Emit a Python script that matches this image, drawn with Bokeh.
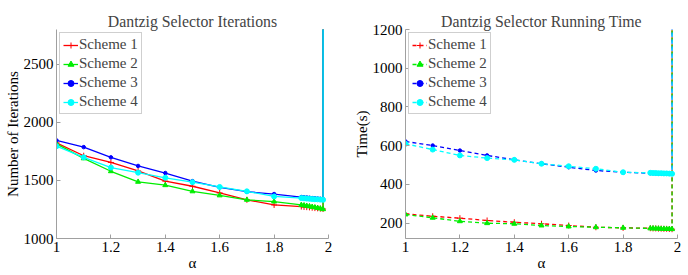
from bokeh.plotting import figure
from bokeh.layouts import row
from bokeh.models import FixedTicker, Range1d
from bokeh.embed import file_html
from bokeh.resources import INLINE

# ---------------- data ----------------
alpha = [1.0, 1.1, 1.2, 1.3, 1.4, 1.5, 1.6, 1.7, 1.8,
         1.90, 1.91, 1.92, 1.93, 1.94, 1.95, 1.96, 1.97, 1.98, 1.98]

iter_s1 = [1824, 1713, 1655, 1582, 1494, 1450, 1392, 1333, 1289,
           1275, 1272, 1270, 1268, 1265, 1262, 1260, 1257, 1254, 20000]
iter_s2 = [1815, 1690, 1579, 1488, 1459, 1406, 1371, 1333, 1318,
           1289, 1285, 1281, 1277, 1272, 1268, 1263, 1258, 1252, 20000]
iter_s3 = [1845, 1787, 1699, 1625, 1564, 1494, 1441, 1403, 1383,
           1357, 1355, 1353, 1351, 1348, 1346, 1344, 1342, 1339, 20000]
iter_s4 = [1795, 1699, 1611, 1567, 1523, 1485, 1444, 1406, 1362,
           1348, 1346, 1344, 1342, 1340, 1338, 1337, 1335, 1333, 20000]

time_s1 = [248, 236, 226, 214, 205, 197, 188, 179, 176,
           174, 173, 173, 172, 172, 171, 171, 170, 169, 8000]
time_s2 = [245, 228, 210, 200, 197, 188, 183, 179, 176,
           173, 173, 172, 172, 171, 171, 170, 170, 169, 8000]
time_s3 = [622, 601, 575, 550, 527, 507, 489, 472, 463,
           458, 458, 457, 457, 456, 456, 456, 455, 455, 8000]
time_s4 = [610, 580, 550, 536, 527, 507, 494, 481, 463,
           460, 459, 459, 458, 458, 457, 457, 456, 455, 8000]

scheme_names = ["Scheme 1", "Scheme 2", "Scheme 3", "Scheme 4"]
scheme_colors = ["#ff0000", "#00ee00", "#0000ff", "#00ffff"]

x_ticks = [1.0, 1.2, 1.4, 1.6, 1.8, 2.0]
x_tick_labels = ["1", "1.2", "1.4", "1.6", "1.8", "2"]
iter_ticks = [1000, 1500, 2000, 2500]
time_ticks = [200, 400, 600, 800, 1000, 1200]

FONT = "Liberation Serif"


def style(p, xlabel, ylabel, yticks):
    p.title.text_font = FONT
    p.title.text_font_size = "15.8px"
    p.title.text_font_style = "normal"
    p.title.align = "center"
    p.title.standoff = 0
    p.title.offset = 0
    p.outline_line_color = None
    p.xgrid.visible = False
    p.ygrid.visible = False
    for ax in (p.xaxis[0], p.yaxis[0]):
        ax.axis_line_color = "#a0a0a0"
        ax.major_tick_line_color = "#a0a0a0"
        ax.major_tick_in = 4
        ax.major_tick_out = 0
        ax.minor_tick_in = 0
        ax.minor_tick_out = 0
        ax.major_label_text_font = FONT
        ax.major_label_text_font_size = "15px"
        ax.major_label_text_color = "black"
        ax.axis_label_text_font = FONT
        ax.axis_label_text_font_size = "15px"
        ax.axis_label_text_font_style = "normal"
        ax.axis_label_text_color = "black"
        ax.axis_label_standoff = 0
        ax.major_label_standoff = 3
    p.xaxis[0].axis_label = xlabel
    p.yaxis[0].axis_label = ylabel
    p.xaxis[0].ticker = FixedTicker(ticks=x_ticks)
    p.xaxis[0].major_label_overrides = {t: l for t, l in zip(x_ticks, x_tick_labels)}
    p.yaxis[0].ticker = FixedTicker(ticks=yticks)


def add_series(p, ys, dash):
    markers = ["cross", "triangle", "circle", "circle"]
    sizes = [6, 5, 3.5, 5]
    for name, color, y, mk, sz in zip(scheme_names, scheme_colors, ys, markers, sizes):
        p.line(alpha, y, line_color=color, line_width=1.3, line_dash=dash,
               legend_label=name)
        fill = color if mk != "cross" else None
        p.scatter(alpha, y, marker=mk, size=sz, line_color=color,
                  fill_color=fill, line_width=1.0, legend_label=name)


def style_legend(p):
    lg = p.legend[0]
    lg.location = "top_left"
    lg.margin = 3
    lg.padding = 3
    lg.spacing = 2
    lg.label_text_font = FONT
    lg.label_text_font_size = "15px"
    lg.label_standoff = 1
    lg.label_height = 16
    lg.glyph_width = 15
    lg.glyph_height = 16
    lg.border_line_color = "#a0a0a0"
    lg.border_line_width = 1
    lg.background_fill_alpha = 1


p1 = figure(width=344, height=275, output_backend="svg", toolbar_location=None,
            title="Dantzig Selector Iterations",
            x_range=Range1d(1, 2), y_range=Range1d(1000, 2800),
            min_border_left=56, min_border_right=16, min_border_top=29,
            min_border_bottom=37)
add_series(p1, [iter_s1, iter_s2, iter_s3, iter_s4], "solid")
style(p1, "α", "Number of Iterations", iter_ticks)
style_legend(p1)

p2 = figure(width=344, height=275, output_backend="svg", toolbar_location=None,
            title="Dantzig Selector Running Time",
            x_range=Range1d(1, 2), y_range=Range1d(121, 1200),
            min_border_left=61, min_border_right=11, min_border_top=29,
            min_border_bottom=37)
add_series(p2, [time_s1, time_s2, time_s3, time_s4], "4 3")
style(p2, "α", "Time(s)", time_ticks)
style_legend(p2)

layout = row(p1, p2)
open("out.html", "w").write(file_html(layout, INLINE))
